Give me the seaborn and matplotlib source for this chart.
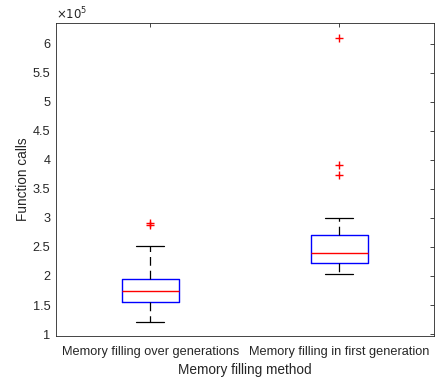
import matplotlib
matplotlib.use("Agg")
import matplotlib.pyplot as plt
import seaborn as sns
import pandas as pd
from matplotlib.ticker import FuncFormatter

# Data (function calls)
categories = ["Memory filling over generations", "Memory filling in first generation"]
over_generations = [120000, 155000, 155000, 155000, 173500, 173500, 173500,
                    194700, 194700, 194700, 251600, 288000, 292000]
first_generation = [204000, 223000, 223000, 223000, 223000, 239500, 239500, 239500, 239500,
                    271000, 271000, 271000, 271000, 299300, 373300, 391600, 610000]
y_ticks = [100000, 150000, 200000, 250000, 300000, 350000, 400000, 450000,
           500000, 550000, 600000]

df = pd.DataFrame({
    "method": [categories[0]] * len(over_generations) + [categories[1]] * len(first_generation),
    "calls": over_generations + first_generation,
})

sns.set_style("white")
plt.rcParams["font.family"] = ["Liberation Sans", "DejaVu Sans"]
plt.rcParams["font.size"] = 9

fig = plt.figure(figsize=(4.36, 3.78), dpi=100)
ax = fig.add_axes([0.128, 0.111, 0.867, 0.828])

sns.boxplot(
    data=df, x="method", y="calls", order=categories, ax=ax,
    width=0.3, fill=False, whis=1.5, linewidth=1,
    boxprops=dict(color="#0000ff", linewidth=1),
    medianprops=dict(color="#ff0000", linewidth=1),
    whiskerprops=dict(color="black", linestyle=(0, (7, 4)), linewidth=0.9),
    capprops=dict(color="black", linewidth=0.9),
    flierprops=dict(marker="+", markeredgecolor="#ff0000", markersize=6, markeredgewidth=1),
)

ax.set_xlim(-0.5, 1.5)
ax.set_ylim(96500, 636000)
ax.set_yticks(y_ticks)
ax.yaxis.set_major_formatter(FuncFormatter(lambda v, p: f"{v/1e5:g}"))
ax.tick_params(direction="in", top=True, right=True, length=3, width=0.6,
               colors="#262626", labelsize=9.2, labelcolor="#262626")
ax.tick_params(axis="x", pad=7)
ax.tick_params(axis="y", pad=4)
for s in ax.spines.values():
    s.set_visible(True)
    s.set_color("#262626")
    s.set_linewidth(0.6)

ax.set_xlabel("Memory filling method", fontsize=9.8, color="#262626", labelpad=4)
ax.set_ylabel("Function calls", fontsize=9.8, color="#262626", labelpad=2)
ax.text(0.0, 1.003, r"$\times10^5$", transform=ax.transAxes, fontsize=8.5,
        color="#262626", ha="left", va="bottom")

fig.savefig("out.png", dpi=100)
